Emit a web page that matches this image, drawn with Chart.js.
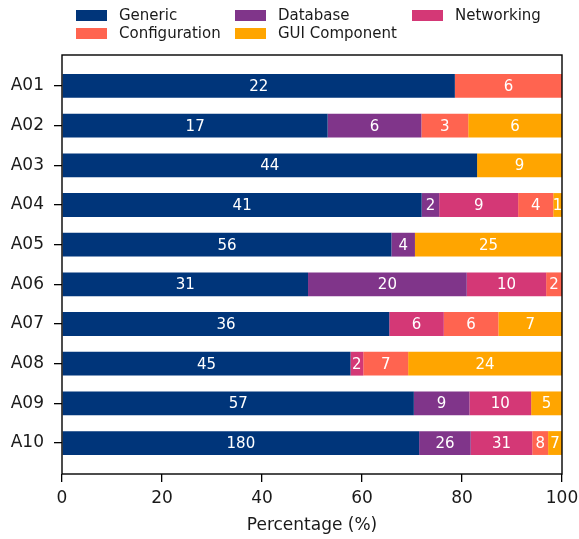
<!DOCTYPE html>
<html><head><meta charset="utf-8">
<script src="https://cdn.jsdelivr.net/npm/chart.js@4.4.1/dist/chart.umd.min.js"></script>
<style>html,body{margin:0;padding:0;background:#fff}#wrap{position:relative;width:579px;height:539px}</style>
</head><body><div id="wrap"><canvas id="c" width="579" height="539"></canvas></div>
<script>
const categories = ['A01','A02','A03','A04','A05','A06','A07','A08','A09','A10'];
const seriesNames = ['Generic','Database','Networking','Configuration','GUI Component'];
const seriesColors = ['#00357a','#80358a','#d43876','#ff6450','#ffa500'];
const generic       = [22, 17, 44, 41, 56, 31, 36, 45, 57, 180];
const database      = [0, 6, 0, 2, 4, 20, 0, 0, 9, 26];
const networking    = [0, 0, 0, 9, 0, 10, 6, 2, 10, 31];
const configuration = [6, 3, 0, 4, 0, 2, 6, 7, 0, 8];
const guiComponent  = [0, 6, 9, 1, 25, 0, 7, 24, 5, 7];
const xTicks = [0, 20, 40, 60, 80, 100];
// legend layout order (rows of 3)
const legendOrder = ['Generic','Database','Networking','Configuration','GUI Component'];

const counts = [generic, database, networking, configuration, guiComponent];
const totals = categories.map((_, j) => counts.reduce((s, a) => s + a[j], 0));
const FONT = "'DejaVu Sans', sans-serif";

const datasets = counts.map((arr, i) => ({
  label: seriesNames[i],
  data: arr.map((v, j) => ({ x: v / totals[j] * 100, y: j })),
  backgroundColor: seriesColors[i],
  borderWidth: 0,
  barPercentage: 0.6,
  categoryPercentage: 1.0
}));

const labelPlugin = {
  id: 'barLabels',
  afterDatasetsDraw(chart) {
    const ctx = chart.ctx;
    ctx.save();
    ctx.fillStyle = '#ffffff';
    ctx.font = '15px ' + FONT;
    ctx.textAlign = 'center';
    ctx.textBaseline = 'middle';
    chart.data.datasets.forEach((ds, i) => {
      const meta = chart.getDatasetMeta(i);
      meta.data.forEach((bar, j) => {
        const c = counts[i][j];
        if (!c) return;
        const p = bar.getProps(['x', 'base', 'y'], true);
        ctx.fillText(String(c), (p.x + p.base) / 2, p.y + 1);
      });
    });
    ctx.restore();
  }
};

const boxPlugin = {
  id: 'box',
  afterDraw(chart) {
    const { left, right, top, bottom } = chart.chartArea;
    const ctx = chart.ctx;
    ctx.save();
    ctx.strokeStyle = '#000';
    ctx.lineWidth = 1.4;
    ctx.strokeRect(left, top, right - left, bottom - top);
    ctx.restore();
  }
};

const legendPlugin = {
  id: 'customLegend',
  afterDraw(chart) {
    const ctx = chart.ctx;
    const colX = [76, 235, 412];
    const rowY = [15.5, 33.5];
    ctx.save();
    ctx.font = '15px ' + FONT;
    ctx.textBaseline = 'middle';
    ctx.textAlign = 'left';
    legendOrder.forEach((name, k) => {
      const i = seriesNames.indexOf(name);
      const row = k < 3 ? 0 : 1;
      const col = k < 3 ? k : k - 3;
      const x = colX[col], y = rowY[row];
      ctx.fillStyle = seriesColors[i];
      ctx.fillRect(x, y - 5.5, 31, 11);
      ctx.fillStyle = '#1a1a1a';
      ctx.fillText(name, x + 43, y + 1);
    });
    ctx.restore();
  }
};

new Chart(document.getElementById('c'), {
  type: 'bar',
  data: { datasets },
  options: {
    indexAxis: 'y',
    responsive: false,
    animation: false,
    devicePixelRatio: 1,
    layout: { padding: { top: 55, right: 17, left: 0, bottom: 0 } },
    plugins: { legend: { display: false }, tooltip: { enabled: false } },
    scales: {
      x: {
        type: 'linear', stacked: true, min: 0, max: 100,
        afterBuildTicks: s => { s.ticks = xTicks.map(v => ({ value: v })); },
        ticks: { color: '#1a1a1a', font: { family: FONT, size: 17 }, padding: 6 },
        grid: { drawOnChartArea: false, drawTicks: true, tickLength: 8, color: '#000', lineWidth: 1.3 },
        border: { display: false },
        title: { display: true, text: 'Percentage (%)', color: '#1a1a1a', font: { family: FONT, size: 17 }, padding: { top: 4, bottom: 3 } },
        afterFit: s => { s.height = 65; s.paddingLeft = 0; s.paddingRight = 0; }
      },
      y: {
        type: 'linear', stacked: true, min: -0.78, max: 9.78, reverse: true, offset: false,
        afterBuildTicks: s => { s.ticks = categories.map((_, i) => ({ value: i })); },
        ticks: { color: '#1a1a1a', font: { family: FONT, size: 17 }, padding: 10, callback: v => categories[v] },
        grid: { offset: false, drawOnChartArea: false, drawTicks: true, tickLength: 8, color: '#000', lineWidth: 1.3 },
        border: { display: false },
        afterFit: s => { s.width = 62; s.paddingTop = 0; s.paddingBottom = 0; }
      }
    }
  },
  plugins: [labelPlugin, boxPlugin, legendPlugin]
});
</script></body></html>
